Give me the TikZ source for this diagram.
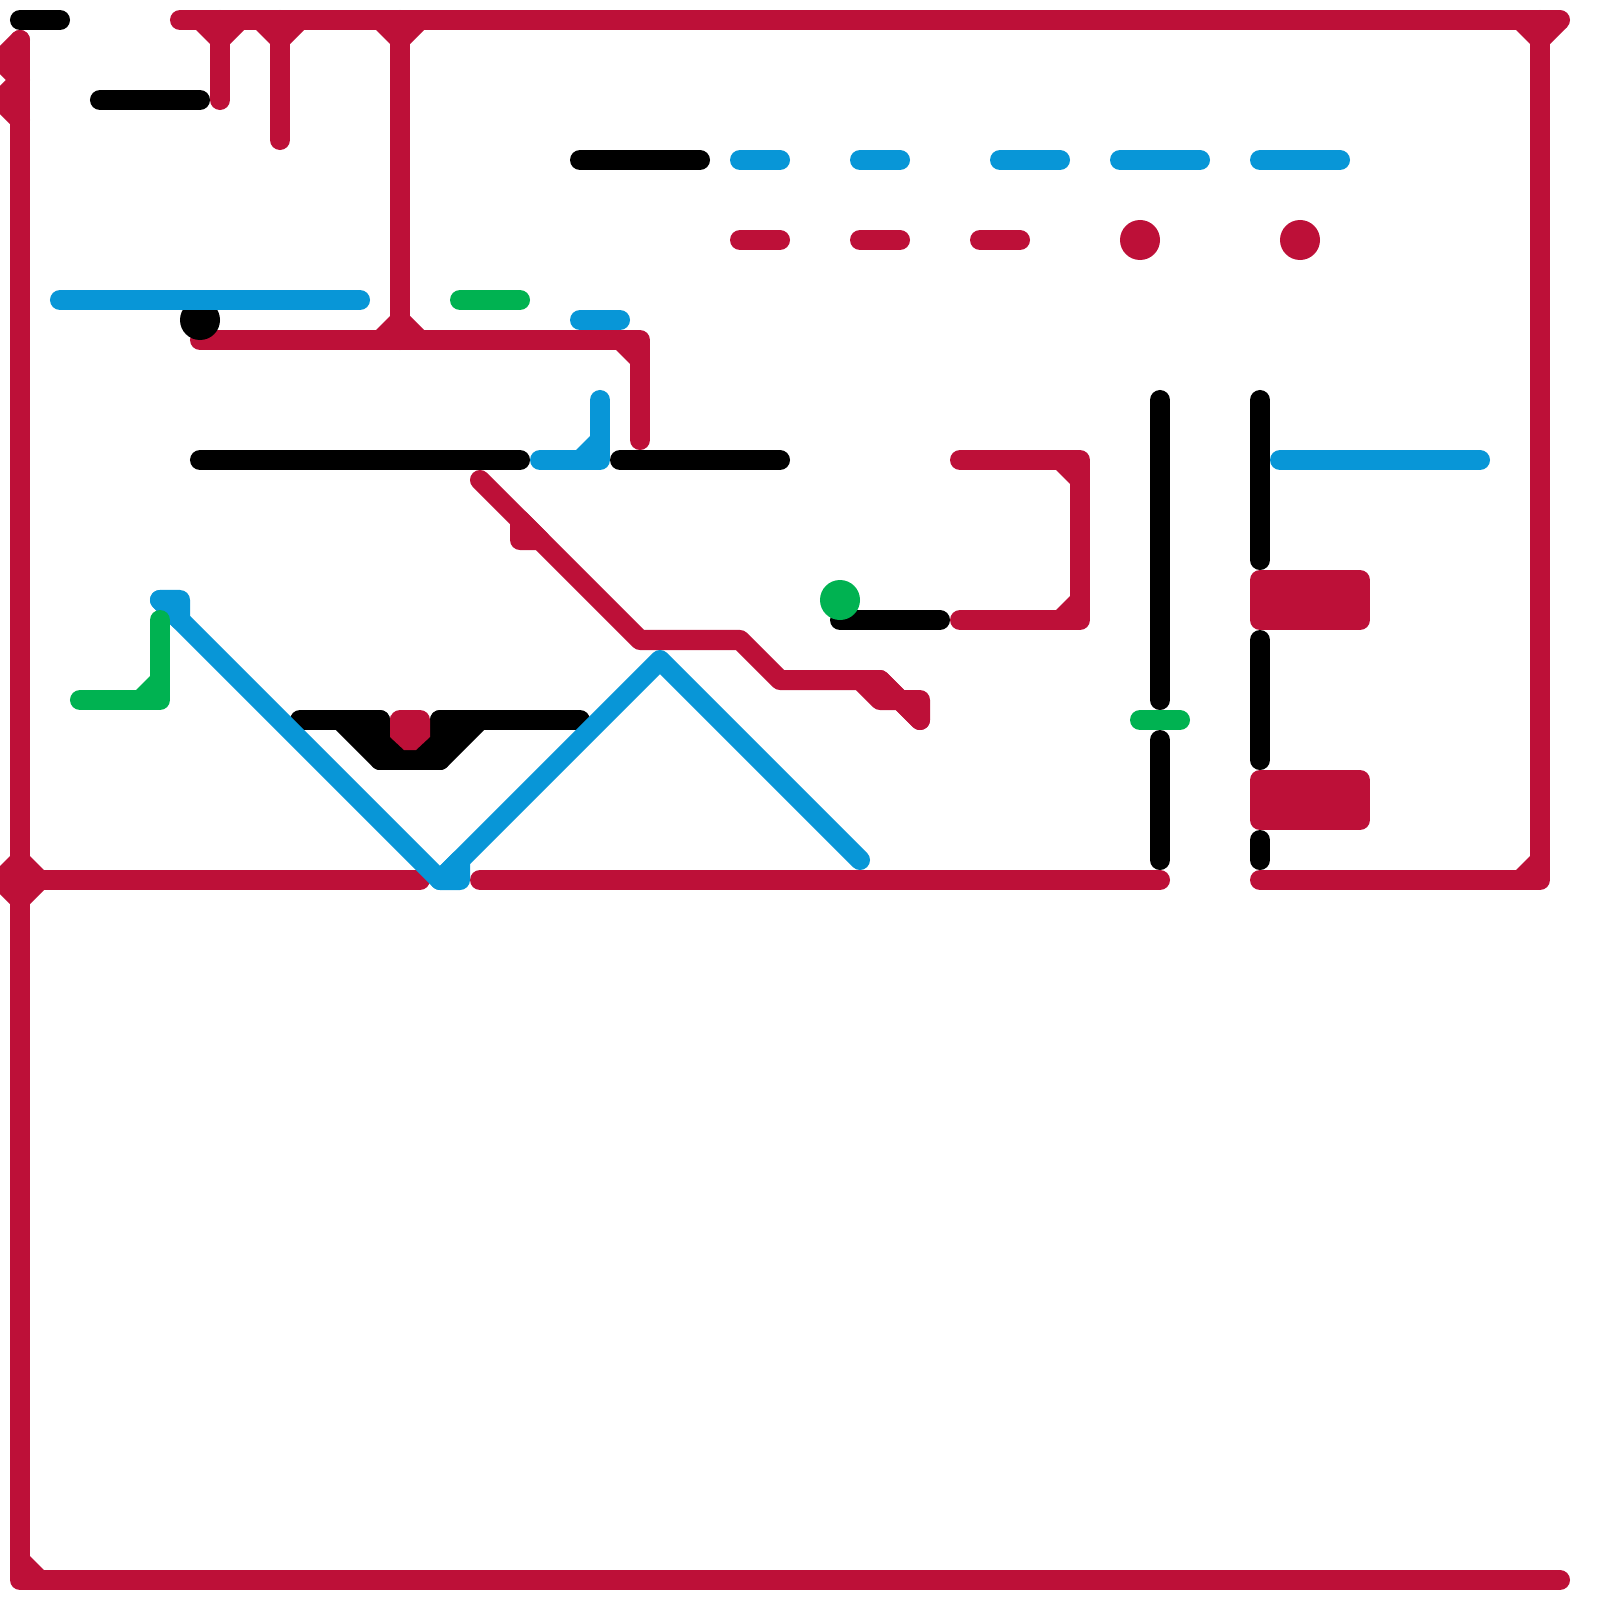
\documentclass[tikz,border=0pt]{standalone}
\usepackage{tikz}
\definecolor{lineRed}{HTML}{BD1038}
\definecolor{lineBlue}{HTML}{0896D7}
\definecolor{lineGreen}{HTML}{00B251}
\tikzset{
  redline/.style={draw=lineRed, line width=2mm, line cap=round, line join=round},
  blueline/.style={draw=lineBlue, line width=2mm, line cap=round, line join=round},
  greenline/.style={draw=lineGreen, line width=2mm, line cap=round, line join=round},
  blackline/.style={draw=black, line width=2mm, line cap=round, line join=round},
  redfill/.style={redline, fill=lineRed},
  bluefill/.style={blueline, fill=lineBlue},
  greenfill/.style={greenline, fill=lineGreen},
  blackfill/.style={blackline, fill=black}
}
\begin{document}
\begin{tikzpicture}[x=0.01cm, y=-0.01cm]
    \useasboundingbox (0, 0) rectangle (1600, 1600);

    % Marco rojo
    \draw[redline] (180, 20) -- (1560, 20);
    \draw[redline] (1540, 20) -- (1540, 880) -- (1260, 880);
    \draw[redline] (20, 40) -- (20, 1580) -- (1560, 1580);
    \draw[redline] (20, 880) -- (420, 880);
    \draw[redline] (480, 880) -- (1160, 880);
    \fill[lineRed] (1516, 30) -- (1530, 44) -- (1530, 30) -- cycle;
    \fill[lineRed] (1550, 44) -- (1567, 27) -- (1550, 27) -- cycle;
    \fill[lineRed] (1516, 870) -- (1530, 856) -- (1530, 870) -- cycle;
    \fill[lineRed] (30, 1556) -- (44, 1570) -- (30, 1570) -- cycle;
    \fill[lineRed] (10, 856) -- (30, 856) -- (44, 870) -- (44, 890) -- (30, 904)
      -- (10, 904) -- (-4, 890) -- (-4, 870) -- cycle;

    % Zigzag izquierda
    \draw[redfill] (20, 40) -- (0, 60) -- (20, 80) -- (0, 100) -- (20, 120);

    % Ramales superiores
    \draw[redline] (220, 20) -- (220, 100);
    \draw[redline] (280, 20) -- (280, 140);
    \draw[redline] (400, 20) -- (400, 340);
    \fill[lineRed] (196, 30) -- (210, 44) -- (230, 44) -- (244, 30) -- cycle;
    \fill[lineRed] (256, 30) -- (270, 44) -- (290, 44) -- (304, 30) -- cycle;
    \fill[lineRed] (376, 30) -- (390, 44) -- (410, 44) -- (424, 30) -- cycle;
    \fill[lineRed] (376, 330) -- (390, 316) -- (410, 316) -- (424, 330) -- cycle;

    % Linea roja central
    \draw[redline] (200, 340) -- (640, 340) -- (640, 440);
    \fill[lineRed] (616, 350) -- (630, 364) -- (630, 350) -- cycle;

    % Diagonal roja
    \draw[redline] (480, 480) -- (640, 640) -- (740, 640) -- (780, 680) -- (880, 680) -- (920, 720);
    \draw[redfill] (520, 520) -- (520, 540) -- (540, 540) -- cycle;
    \draw[redfill] (860, 680) -- (880, 700) -- (900, 700) -- (880, 680) -- cycle;
    \draw[redfill] (900, 700) -- (920, 700) -- (920, 720) -- cycle;

    % Corchete rojo
    \draw[redline] (960, 460) -- (1080, 460) -- (1080, 620) -- (960, 620);
    \fill[lineRed] (1056, 470) -- (1070, 484) -- (1070, 470) -- cycle;
    \fill[lineRed] (1056, 610) -- (1070, 596) -- (1070, 610) -- cycle;

    % Tramos y puntos rojos
    \draw[redline] (740, 240) -- (780, 240);
    \draw[redline] (860, 240) -- (900, 240);
    \draw[redline] (980, 240) -- (1020, 240);
    \fill[lineRed] (1140, 240) circle (20);
    \fill[lineRed] (1300, 240) circle (20);

    % Bloques rojos
    \draw[redfill] (1260, 580) rectangle (1360, 620);
    \draw[redfill] (1260, 780) rectangle (1360, 820);

    % Negro
    \draw[blackline] (20, 20) -- (60, 20);
    \draw[blackline] (100, 100) -- (200, 100);
    \fill[black] (200, 320) circle (20);
    \draw[blackline] (580, 160) -- (700, 160);
    \draw[blackline] (200, 460) -- (520, 460);
    \draw[blackline] (620, 460) -- (780, 460);
    \draw[blackline] (840, 620) -- (940, 620);
    \draw[blackline] (1160, 400) -- (1160, 700);
    \draw[blackline] (1160, 740) -- (1160, 860);
    \draw[blackline] (1260, 400) -- (1260, 560);
    \draw[blackline] (1260, 640) -- (1260, 760);
    \draw[blackline] (1260, 840) -- (1260, 860);

    % Puente negro
    \draw[blackline] (300, 720) -- (380, 720);
    \draw[blackline] (440, 720) -- (580, 720);
    \draw[blackline] (380, 760) -- (440, 760);
    \draw[blackfill] (340, 720) -- (380, 720) -- (380, 760) -- cycle;
    \draw[blackfill] (480, 720) -- (440, 720) -- (440, 760) -- cycle;
    \fill[black] (380, 730) rectangle (440, 760);
    \fill[lineRed] (430, 725) [rounded corners=1mm] -- (430, 710) -- (390, 710) -- (390, 725)
      [sharp corners] -- (390, 737) -- (404, 750) -- (416, 750) -- (430, 737) -- cycle;

    % Azul
    \draw[blueline] (60, 300) -- (360, 300);
    \draw[blueline] (740, 160) -- (780, 160);
    \draw[blueline] (860, 160) -- (900, 160);
    \draw[blueline] (1000, 160) -- (1060, 160);
    \draw[blueline] (1120, 160) -- (1200, 160);
    \draw[blueline] (1260, 160) -- (1340, 160);
    \draw[blueline] (580, 320) -- (620, 320);
    \draw[blueline] (1280, 460) -- (1480, 460);
    \draw[blueline] (600, 400) -- (600, 460) -- (540, 460);
    \fill[lineBlue] (576, 450) -- (590, 436) -- (590, 450) -- cycle;
    \draw[blueline] (160, 600) -- (440, 880) -- (660, 660) -- (860, 860);
    \draw[bluefill] (160, 600) -- (180, 600) -- (180, 620) -- cycle;
    \draw[bluefill] (440, 880) -- (460, 880) -- (460, 860) -- cycle;

    % Verde
    \draw[greenline] (460, 300) -- (520, 300);
    \draw[greenline] (160, 620) -- (160, 700) -- (80, 700);
    \fill[lineGreen] (136, 690) -- (150, 676) -- (150, 690) -- cycle;
    \draw[greenline] (1140, 720) -- (1180, 720);
    \fill[lineGreen] (840, 600) circle (20);
\end{tikzpicture}
\end{document}
